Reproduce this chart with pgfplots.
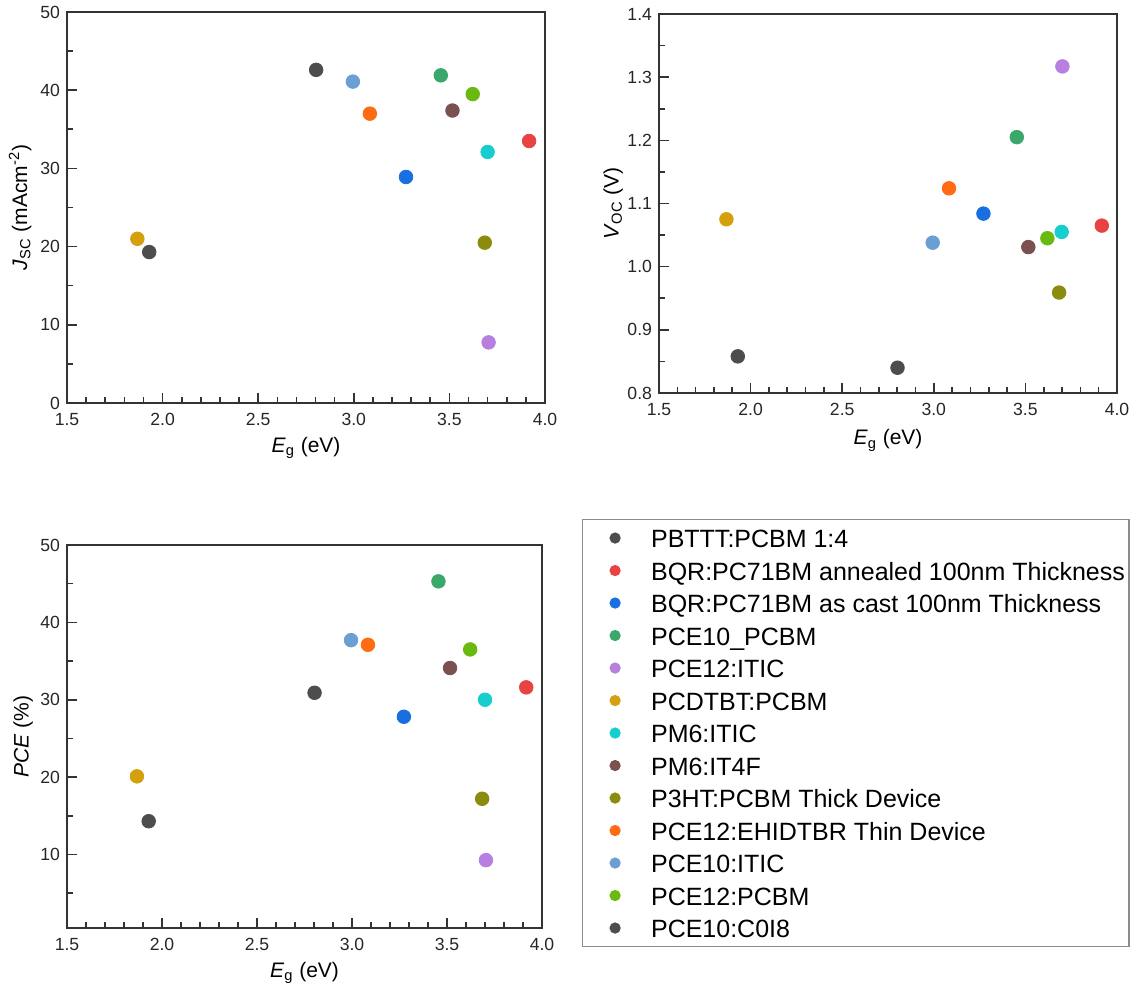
\documentclass[border=0pt]{standalone}
\usepackage{pgfplots}
\pgfplotsset{compat=1.18}
\usepackage{fontspec}
\setmainfont{Liberation Sans}
\definecolor{cA}{HTML}{4D4D4D}
\definecolor{cB}{HTML}{E84343}
\definecolor{cC}{HTML}{1A6FE0}
\definecolor{cD}{HTML}{3BA86B}
\definecolor{cE}{HTML}{B77FE0}
\definecolor{cF}{HTML}{D4A00E}
\definecolor{cG}{HTML}{18CDCD}
\definecolor{cH}{HTML}{7B5050}
\definecolor{cI}{HTML}{8B8B0E}
\definecolor{cJ}{HTML}{FF6B12}
\definecolor{cK}{HTML}{6B9FD4}
\definecolor{cL}{HTML}{6AB90E}
\definecolor{axc}{HTML}{333333}
\pgfplotsset{
  myax/.style={
    scale only axis,
    anchor=south west,
    xmin=1.5, xmax=4.0,
    xtick={1.5,2.0,2.5,3.0,3.5,4.0},
    minor x tick num=4,
    minor y tick num=1,
    tick align=inside,
    xtick pos=bottom, ytick pos=left,
    major tick length=5pt, minor tick length=3pt,
    axis line style={axc, line width=1pt},
    every tick/.style={axc, line width=0.8pt},
    tick label style={font=\fontsize{8.8}{10}\selectfont, text=black!85},
    label style={font=\fontsize{10.5}{12}\selectfont},
    /pgf/number format/assume math mode=true,
    xticklabel style={yshift=-1.5pt, /pgf/number format/.cd, fixed, fixed zerofill, precision=1},
    every axis plot/.append style={only marks, mark=*, mark size=3.4pt},
  },
}
\begin{document}
\begin{tikzpicture}
\useasboundingbox (0,0) rectangle (568.5pt,495pt);
% ---------- Jsc ----------
\begin{axis}[myax, at={(33.5pt,293.5pt)}, width=239pt, height=195.5pt,
  ymin=0, ymax=50, ytick={0,10,20,30,40,50},
  xlabel={\textit{E}\textsubscript{g} (eV)},
  ylabel={\textit{J}\textsubscript{SC} (mAcm\textsuperscript{-2})},
  xlabel style={at={(axis description cs:0.5,-0.115)}, anchor=center},
  ylabel style={at={(axis description cs:-0.098,0.5)}, anchor=center},
]
\addplot[cA] coordinates {(1.930,19.3)};
\addplot[cB] coordinates {(3.917,33.5)};
\addplot[cC] coordinates {(3.273,28.9)};
\addplot[cD] coordinates {(3.455,41.9)};
\addplot[cE] coordinates {(3.705,7.75)};
\addplot[cF] coordinates {(1.868,21.0)};
\addplot[cG] coordinates {(3.700,32.1)};
\addplot[cH] coordinates {(3.516,37.4)};
\addplot[cI] coordinates {(3.685,20.5)};
\addplot[cJ] coordinates {(3.084,37.0)};
\addplot[cK] coordinates {(2.995,41.1)};
\addplot[cL] coordinates {(3.622,39.5)};
\addplot[cA] coordinates {(2.803,42.6)};
\end{axis}
% ---------- Voc ----------
\begin{axis}[myax, at={(329.5pt,298.5pt)}, width=229pt, height=189.5pt,
  ymin=0.8, ymax=1.4, ytick={0.8,0.9,1.0,1.1,1.2,1.3,1.4},
  yticklabel style={/pgf/number format/.cd, fixed, fixed zerofill, precision=1},
  xlabel={\textit{E}\textsubscript{g} (eV)},
  ylabel={\textit{V}\textsubscript{OC} (V)},
  xlabel style={at={(axis description cs:0.5,-0.125)}, anchor=center},
  ylabel style={at={(axis description cs:-0.10,0.5)}, anchor=center},
]
\addplot[cA] coordinates {(1.930,0.858)};
\addplot[cB] coordinates {(3.917,1.065)};
\addplot[cC] coordinates {(3.271,1.084)};
\addplot[cD] coordinates {(3.453,1.205)};
\addplot[cE] coordinates {(3.702,1.317)};
\addplot[cF] coordinates {(1.868,1.075)};
\addplot[cG] coordinates {(3.698,1.055)};
\addplot[cH] coordinates {(3.516,1.031)};
\addplot[cI] coordinates {(3.684,0.959)};
\addplot[cJ] coordinates {(3.083,1.124)};
\addplot[cK] coordinates {(2.994,1.038)};
\addplot[cL] coordinates {(3.620,1.045)};
\addplot[cA] coordinates {(2.802,0.840)};
\end{axis}
% ---------- PCE ----------
\begin{axis}[myax, at={(33.5pt,31pt)}, width=237.5pt, height=191.5pt,
  ymin=0.5, ymax=50, ytick={10,20,30,40,50}, minor ytick={5,15,25,35,45},
  minor y tick num=0,
  xlabel={\textit{E}\textsubscript{g} (eV)},
  ylabel={\textit{PCE} (\%)},
  xlabel style={at={(axis description cs:0.5,-0.117)}, anchor=center},
  ylabel style={at={(axis description cs:-0.092,0.5)}, anchor=center},
  legend cell align=left,
  legend image code/.code={\path (-14pt,0pt); \draw[#1, mark size=2.5pt] plot coordinates {(0pt,0pt)};},
  legend style={at={(1.084,1.068)}, anchor=north west, draw=black!45, line width=0.6pt,
    font=\fontsize{12.5}{15}\selectfont, inner xsep=2pt, inner ysep=3pt,
    row sep=3.75pt, column sep=15.5pt,
    nodes={inner sep=0pt, text height=11pt, text depth=1.5pt}},
]
\addplot[cA] coordinates {(1.930,14.3)};
\addlegendentry{PBTTT:PCBM 1:4}
\addplot[cB] coordinates {(3.917,31.6)};
\addlegendentry{BQR:PC71BM annealed 100nm Thickness}
\addplot[cC] coordinates {(3.273,27.8)};
\addlegendentry{BQR:PC71BM as cast 100nm Thickness}
\addplot[cD] coordinates {(3.455,45.3)};
\addlegendentry{PCE10\_PCBM}
\addplot[cE] coordinates {(3.705,9.27)};
\addlegendentry{PCE12:ITIC}
\addplot[cF] coordinates {(1.868,20.1)};
\addlegendentry{PCDTBT:PCBM}
\addplot[cG] coordinates {(3.700,30.0)};
\addlegendentry{PM6:ITIC}
\addplot[cH] coordinates {(3.516,34.1)};
\addlegendentry{PM6:IT4F}
\addplot[cI] coordinates {(3.685,17.2)};
\addlegendentry{P3HT:PCBM Thick Device}
\addplot[cJ] coordinates {(3.084,37.1)};
\addlegendentry{PCE12:EHIDTBR Thin Device}
\addplot[cK] coordinates {(2.995,37.7)};
\addlegendentry{PCE10:ITIC}
\addplot[cL] coordinates {(3.622,36.5)};
\addlegendentry{PCE12:PCBM}
\addplot[cA] coordinates {(2.803,30.9)};
\addlegendentry{PCE10:C0I8}
\end{axis}
\end{tikzpicture}
\end{document}
